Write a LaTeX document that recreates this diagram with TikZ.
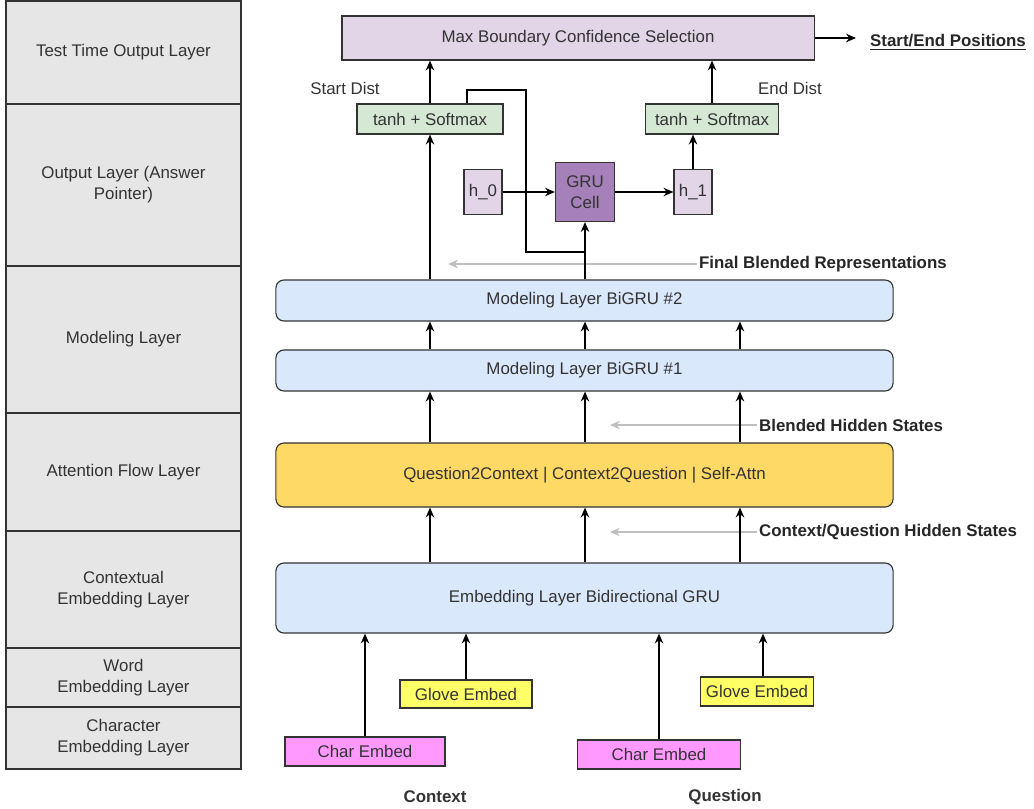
\documentclass[tikz,border=0pt]{standalone}
\usepackage{fontspec}
\setmainfont{Liberation Sans}
\usetikzlibrary{arrows.meta,positioning,calc}
\definecolor{layergray}{HTML}{E6E6E6}
\definecolor{lilac}{HTML}{E1D5E7}
\definecolor{grupurple}{HTML}{A680B8}
\definecolor{softgreen}{HTML}{D5E8D4}
\definecolor{paleblue}{HTML}{DAE8FC}
\definecolor{attyellow}{HTML}{FFD966}
\definecolor{gloveyellow}{HTML}{FFFF66}
\definecolor{charpink}{HTML}{FF99FF}
\definecolor{inkgray}{HTML}{333333}

\begin{document}
\begin{tikzpicture}[x=0.025cm, y=-0.025cm, >={Stealth[length=7pt,width=6pt]},
       line width=1.1pt,
       every node/.style={font=\fontsize{12}{15}\selectfont, text=inkgray},
       layer/.style={draw=inkgray, line width=0.8pt, fill=layergray, minimum width=5.875cm, align=center, inner sep=0pt},
       box/.style={draw=inkgray, line width=0.8pt, inner sep=0pt},
       wide/.style={box, rounded corners=2mm, minimum width=15.425cm},
       side/.style={font=\bfseries\fontsize{12}{15}\selectfont, text=black!85, anchor=west, inner sep=1pt},
       hint/.style={->, draw=gray!50, line width=0.9pt}]
      \useasboundingbox (0,0) rectangle (1034,809);

      % layer names on the left
      \node[layer, minimum height=2.575cm] (lTest) at (123.5,52.5) {Test Time Output Layer};
      \node[layer, minimum height=4.05cm] (lOut) at (123.5,185) {Output Layer (Answer\\Pointer)};
      \node[layer, minimum height=3.675cm] (lMod) at (123.5,339.5) {Modeling Layer};
      \node[layer, minimum height=2.95cm] (lAtt) at (123.5,472) {Attention Flow Layer};
      \node[layer, minimum height=2.925cm] (lCtx) at (123.5,589.5) {Contextual\\Embedding Layer};
      \node[layer, minimum height=1.475cm] (lWord) at (123.5,677.5) {Word\\Embedding Layer};
      \node[layer, minimum height=1.55cm] (lChar) at (123.5,738) {Character\\Embedding Layer};

      % model
      \node[box, fill=lilac, minimum width=11.8cm, minimum height=1.1cm] (maxsel) at (578,38) {Max Boundary Confidence Selection};
      \node[side] (pos) at (868,42) {\underline{Start/End Positions}};
      \node (startd) at (345,88) {Start Dist};
      \node (endd) at (790,88) {End Dist};
      \node[box, fill=softgreen, minimum width=3.65cm, minimum height=0.75cm] (tanhL) at (430,119) {tanh + Softmax};
      \node[box, fill=softgreen, minimum width=3.325cm, minimum height=0.75cm] (tanhR) at (712,119) {tanh + Softmax};
      \node[box, fill=lilac, minimum width=0.95cm, minimum height=1.125cm] (h0) at (483,192) {h\_0};
      \node[box, fill=grupurple, minimum width=1.475cm, minimum height=1.475cm, align=center] (gru) at (585,192) {GRU\\Cell};
      \node[box, fill=lilac, minimum width=0.95cm, minimum height=1.125cm] (h1) at (693,192) {h\_1};
      \node[wide, fill=paleblue, minimum height=1.025cm] (bigru2) at (584.5,300.5) {Modeling Layer BiGRU \#2};
      \node[wide, fill=paleblue, minimum height=1.025cm] (bigru1) at (584.5,370.5) {Modeling Layer BiGRU \#1};
      \node[wide, fill=attyellow, minimum height=1.6cm] (attn) at (584.5,475) {Question2Context | Context2Question | Self-Attn};
      \node[wide, fill=paleblue, minimum height=1.75cm] (embgru) at (584.5,598) {Embedding Layer Bidirectional GRU};
      \node[box, fill=gloveyellow, minimum width=3.3cm, minimum height=0.7cm] (gloveC) at (466,694) {Glove Embed};
      \node[box, fill=charpink, minimum width=4cm, minimum height=0.725cm] (charC) at (365,751.5) {Char Embed};
      \node[box, fill=gloveyellow, minimum width=2.825cm, minimum height=0.725cm] (gloveQ) at (757,691.5) {Glove Embed};
      \node[box, fill=charpink, minimum width=4.075cm, minimum height=0.725cm] (charQ) at (659,754.5) {Char Embed};
      \node[font=\bfseries\fontsize{12}{15}\selectfont] (ctx) at (435,797) {Context};
      \node[font=\bfseries\fontsize{12}{15}\selectfont] (qst) at (725,797) {Question};

      % hidden state hints
      \node[side] (fbr) at (697,264) {Final Blended Representations};
      \node[side] (bhs) at (757,425) {Blended Hidden States};
      \node[side] (cqhs) at (757,532) {Context/Question Hidden States};
      \coordinate (fbrEnd) at (448,264);
      \coordinate (bhsEnd) at (610,425);
      \coordinate (cqhsEnd) at (610,532);
      \draw[hint] (fbr.west) -- (fbrEnd);
      \draw[hint] (bhs.west) -- (bhsEnd);
      \draw[hint] (cqhs.west) -- (cqhsEnd);

      \coordinate (colL) at (430,0);
      \coordinate (colM) at (585,0);
      \coordinate (colR) at (740,0);
      \coordinate (loopB) at (526,252);
      \coordinate (loopT) at (467,90);

      \draw[->] (charC.north) -- (charC.north |- embgru.south);
      \draw[->] (gloveC.north) -- (gloveC.north |- embgru.south);
      \draw[->] (charQ.north) -- (charQ.north |- embgru.south);
      \draw[->] ([xshift=0.15cm]gloveQ.north) -- ([xshift=0.15cm]gloveQ.north |- embgru.south);
      \draw[->] (embgru.north -| colL) -- (attn.south -| colL);
      \draw[->] (embgru.north -| colM) -- (attn.south -| colM);
      \draw[->] (embgru.north -| colR) -- (attn.south -| colR);
      \draw[->] (attn.north -| colL) -- (bigru1.south -| colL);
      \draw[->] (attn.north -| colM) -- (bigru1.south -| colM);
      \draw[->] (attn.north -| colR) -- (bigru1.south -| colR);
      \draw[->] (bigru1.north -| colL) -- (bigru2.south -| colL);
      \draw[->] (bigru1.north -| colM) -- (bigru2.south -| colM);
      \draw[->] (bigru1.north -| colR) -- (bigru2.south -| colR);

      \draw[->] (bigru2.north -| tanhL) -- (tanhL.south);
      \draw[->] (bigru2.north -| gru) -- (gru.south);
      \draw (loopB -| gru) -- (loopB) |- (loopT) -- (loopT |- tanhL.north);
      \draw[->] (h0) -- (gru);
      \draw[->] (gru) -- (h1);
      \draw[->] (h1.north) -- (h1.north |- tanhR.south);
      \draw[->] (tanhL.north) -- (tanhL.north |- maxsel.south);
      \draw[->] (tanhR.north) -- (tanhR.north |- maxsel.south);
      \draw[->, shorten >=3mm] (maxsel.east) -- (maxsel.east -| pos.west);
     \end{tikzpicture}
\end{document}
